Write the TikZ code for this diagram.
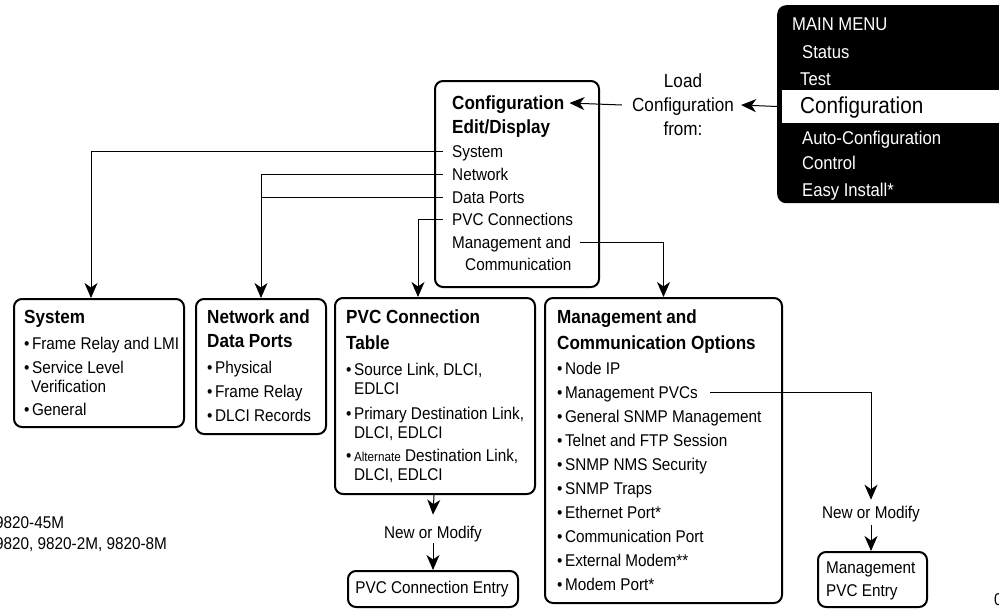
\documentclass[tikz,border=0pt]{standalone}
\usepackage{fontspec}
\setmainfont[FakeStretch=0.9]{Liberation Sans}
\usetikzlibrary{arrows.meta}
\tikzset{
  txt/.style={font=\fontsize{17}{20}\selectfont, inner sep=0pt, text height=12.2pt, text depth=0pt, anchor=west},
  ttl/.style={font=\fontsize{19}{22}\selectfont\bfseries, inner sep=0pt, text height=13.6pt, text depth=0pt, anchor=west},
  mtxt/.style={font=\fontsize{18.5}{22}\selectfont, text=white, inner sep=0pt, text height=13.2pt, text depth=0pt, anchor=west},
  box/.style={draw, line width=2pt, rounded corners=8pt, inner sep=0pt, anchor=north west},
  conn/.style={line width=1pt},
  arr/.style={line width=1pt, -{Stealth[length=15pt, width=13pt, inset=4.5pt]}},
}
\newcommand{\bu}{•\kern2.5pt}
\begin{document}
\begin{tikzpicture}[x=1pt, y=-1pt]
\useasboundingbox (0,0) rectangle (999,614);
% main menu
\node[fill=black, rounded corners=9pt, minimum width=240pt, minimum height=198pt, inner sep=0pt, anchor=north west] (menu) at (777,5) {};
\node[fill=white, minimum width=230pt, minimum height=33pt, inner sep=0pt, anchor=north west] (mband) at (782,90) {};
\node[mtxt] (mMain) at (792,24) {MAIN MENU};
\node[mtxt] (mStatus) at (802,52) {Status};
\node[mtxt] (mTest) at (800,79) {Test};
\node[mtxt, text=black, font=\fontsize{23}{26}\selectfont, text height=16.5pt] (mConf) at (800,105) {Configuration};
\node[mtxt] (mAuto) at (802,138) {Auto-Configuration};
\node[mtxt] (mCtrl) at (802,163) {Control};
\node[mtxt] (mEasy) at (802,190) {Easy Install*};

% load configuration from
\node[font=\fontsize{19}{24}\selectfont, align=center, inner sep=0pt] (load) at (683,105) {Load\\Configuration\\from:};
\draw[arr] (mband.west) -- ([xshift=7pt]load.east);

% configuration box
\node[box, minimum width=164pt, minimum height=206pt] (cfg) at (434,80) {};
\node[ttl] (cTitle) at (452,103) {Configuration};
\node[ttl] (cEdit) at (452,127) {Edit/Display};
\node[txt] (cSys) at (452,151) {System};
\node[txt] (cNet) at (452,174) {Network};
\node[txt] (cData) at (452,197) {Data Ports};
\node[txt] (cPVC) at (452,219) {PVC Connections};
\node[txt] (cMgmt) at (452,242) {Management and};
\node[txt] (cComm) at (465,264) {Communication};
\draw[arr] ([xshift=-10pt]load.west) -- ([xshift=5pt]cTitle.east);

% system box
\node[box, minimum width=170pt, minimum height=128pt] (sysbox) at (13,298) {};
\node[ttl] (sTitle) at (24,317) {System};
\node[txt] (s1) at (24,343) {\bu Frame Relay and LMI};
\node[txt] (s2) at (24,367) {\bu Service Level};
\node[txt] (s2b) at (31,386) {Verification};
\node[txt] (s3) at (24,409) {\bu General};

% network box
\node[box, minimum width=130pt, minimum height=135pt] (netbox) at (195,298) {};
\node[ttl] (nTitle) at (207,317) {Network and};
\node[ttl] (nTitle2) at (207,341) {Data Ports};
\node[txt] (n1) at (207,367) {\bu Physical};
\node[txt] (n2) at (207,391) {\bu Frame Relay};
\node[txt] (n3) at (207,415) {\bu DLCI Records};

% PVC box
\node[box, minimum width=200pt, minimum height=196pt] (pvcbox) at (334,297) {};
\node[ttl] (pTitle) at (346,317) {PVC Connection};
\node[ttl] (pTitle2) at (346,343) {Table};
\node[txt] (p1) at (346,369) {\bu Source Link, DLCI,};
\node[txt] (p1b) at (354,388) {EDLCI};
\node[txt] (p2) at (346,413) {\bu Primary Destination Link,};
\node[txt] (p2b) at (354,432) {DLCI, EDLCI};
\node[txt] (p3) at (346,455) {\bu{\fontsize{13}{15}\selectfont Alternate} Destination Link,};
\node[txt] (p3b) at (354,474) {DLCI, EDLCI};

% management box
\node[box, minimum width=237pt, minimum height=305pt] (mgbox) at (544,297) {};
\node[ttl] (gTitle) at (557,317) {Management and};
\node[ttl] (gTitle2) at (557,343) {Communication Options};
\node[txt] (g1) at (557,368) {\bu Node IP};
\node[txt] (g2) at (557,392) {\bu Management PVCs};
\node[txt] (g3) at (557,416) {\bu General SNMP Management};
\node[txt] (g4) at (557,440) {\bu Telnet and FTP Session};
\node[txt] (g5) at (557,464) {\bu SNMP NMS Security};
\node[txt] (g6) at (557,488) {\bu SNMP Traps};
\node[txt] (g7) at (557,512) {\bu Ethernet Port*};
\node[txt] (g8) at (557,536) {\bu Communication Port};
\node[txt] (g9) at (557,560) {\bu External Modem**};
\node[txt] (g10) at (557,584) {\bu Modem Port*};

% entries
\node[txt, anchor=center] (nm1) at (433,532) {New or Modify};
\node[box, minimum width=170pt, minimum height=36pt] (pvcentry) at (347,570) {};
\node[txt, anchor=center] (pvcentryT) at (432,587) {PVC Connection Entry};

\node[txt, anchor=center] (nm2) at (871,512) {New or Modify};
\node[box, minimum width=109pt, minimum height=55pt] (mpvcentry) at (817,551) {};
\node[txt] (me1) at (826,567) {Management};
\node[txt] (me2) at (826,590) {PVC Entry};

% footnotes
\node[txt] (f1) at (-5,522) {9820-45M};
\node[txt] (f2) at (-5,543) {9820, 9820-2M, 9820-8M};
\node[txt] (fig) at (994,599) {0};

% connectors from config box
\draw[arr] ([xshift=-9pt]cSys.west) -| ([xshift=-8pt]sysbox.north);
\draw[arr] ([xshift=-9pt]cNet.west) -| (netbox.north);
\draw[conn] ([xshift=-9pt]cData.west) -- (cData.west -| netbox.north);
\draw[arr] ([xshift=-9pt]cPVC.west) -| ([xshift=-17pt]pvcbox.north);
\draw[arr] ([xshift=9pt]cMgmt.east) -| (mgbox.north);

% PVC box to entry
\draw[arr] ([xshift=-1pt]pvcbox.south) -- ([yshift=11pt]nm1.north);
\draw[arr] ([yshift=-5pt]nm1.south) -- (nm1.south |- pvcentry.north);

% management PVCs
\draw[arr] ([xshift=12pt]g2.east) -| ([yshift=6pt]nm2.north);
\draw[arr] ([yshift=-7pt]nm2.south) -- (nm2.south |- mpvcentry.north);
\end{tikzpicture}
\end{document}
